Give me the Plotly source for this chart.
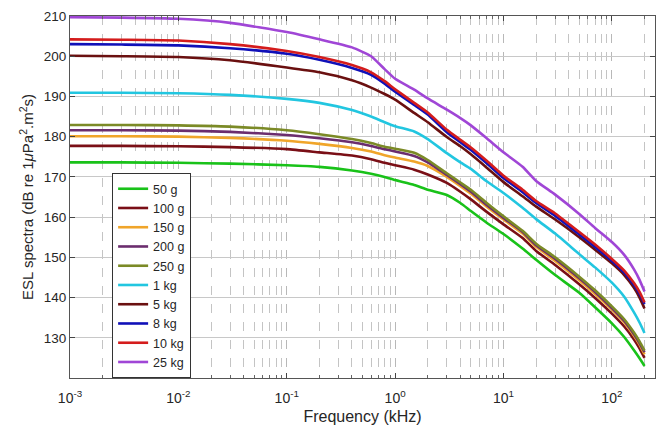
import plotly.graph_objects as go

freq_khz = [0.001, 0.003, 0.01, 0.03, 0.1, 0.2, 0.4, 0.6, 0.8, 1, 1.5, 2, 3, 4, 5, 7,
            10, 15, 20, 30, 50, 70, 100, 130, 160, 180, 200]

labels = ["50 g", "100 g", "150 g", "200 g", "250 g", "1 kg", "5 kg", "8 kg", "10 kg", "25 kg"]

esl_50g = [173.6, 173.6, 173.5, 173.3, 172.9, 172.5, 171.6, 170.8, 170.0, 169.2, 168.0, 166.8, 165.5, 163.5,
           161.5, 158.6, 155.8, 152.2, 149.4, 145.6, 141.2, 137.6, 133.6, 130.2, 126.9, 124.9, 123.0]
esl_100g = [177.7, 177.7, 177.6, 177.4, 176.9, 176.1, 175.3, 174.4, 173.5, 172.9, 171.8, 170.6, 168.5, 166.3,
            164.4, 161.3, 158.2, 154.8, 151.6, 148.1, 143.3, 139.9, 136.0, 132.8, 129.6, 127.4, 125.0]
esl_150g = [180.1, 180.1, 180.0, 179.7, 179.0, 178.2, 177.2, 176.3, 175.4, 174.8, 173.8, 172.7, 170.0, 167.7,
            165.8, 162.6, 159.4, 155.9, 152.6, 149.1, 144.3, 140.9, 137.0, 133.8, 130.5, 128.3, 125.9]
esl_200g = [181.6, 181.6, 181.5, 181.2, 180.4, 179.6, 178.6, 177.7, 176.9, 176.3, 175.2, 173.6, 170.5, 168.2,
            166.3, 163.0, 159.8, 156.3, 153.0, 149.6, 144.8, 141.4, 137.4, 134.2, 130.9, 128.7, 126.4]
esl_250g = [182.9, 182.9, 182.8, 182.5, 181.6, 180.6, 179.4, 178.4, 177.5, 177.0, 176.0, 174.2, 170.9, 168.6,
            166.8, 163.5, 160.2, 156.6, 153.4, 150.0, 145.2, 141.8, 137.8, 134.6, 131.3, 129.1, 126.8]
esl_1kg = [190.9, 190.9, 190.8, 190.4, 189.4, 188.4, 186.6, 185.0, 183.6, 182.6, 181.3, 179.4, 175.9, 173.6,
           172.0, 168.9, 166.0, 162.3, 159.5, 155.9, 150.8, 147.5, 143.7, 140.2, 136.3, 133.8, 131.2]
esl_5kg = [200.1, 200.0, 199.8, 199.0, 197.2, 196.0, 194.0, 192.2, 190.6, 189.2, 185.9, 183.6, 179.9, 177.6,
           175.6, 172.3, 168.7, 165.2, 162.6, 159.4, 155.0, 151.9, 148.5, 145.6, 142.4, 140.0, 137.3]
esl_8kg = [203.0, 202.9, 202.7, 202.0, 200.6, 199.1, 197.1, 195.4, 193.2, 191.2, 187.9, 185.5, 181.1, 178.6,
           176.7, 173.4, 169.7, 166.2, 163.5, 160.3, 155.7, 152.6, 149.1, 146.2, 143.1, 140.9, 138.4]
esl_10kg = [204.2, 204.1, 203.9, 203.0, 201.3, 199.8, 197.8, 196.0, 193.8, 191.8, 188.4, 186.0, 181.7, 179.2,
            177.3, 174.0, 170.3, 166.8, 164.0, 160.9, 156.3, 153.2, 149.6, 146.7, 143.6, 141.4, 138.8]
esl_25kg = [209.7, 209.6, 209.3, 208.3, 206.0, 204.2, 202.2, 200.0, 196.8, 194.4, 191.7, 189.5, 186.7, 184.6,
            182.8, 179.6, 176.1, 172.5, 169.0, 165.6, 160.8, 157.3, 153.8, 150.6, 147.0, 144.4, 141.5]

series = [esl_50g, esl_100g, esl_150g, esl_200g, esl_250g, esl_1kg, esl_5kg, esl_8kg, esl_10kg, esl_25kg]
colors = ["#19c219", "#7a0f16", "#f0a52a", "#6b2d6e", "#7b8a26", "#22c6e0", "#6a1010", "#1010b8", "#d41c1c", "#a046d6"]

x_tickvals = [1e-3, 1e-2, 1e-1, 1e0, 1e1, 1e2]
x_ticktext = ["10<sup>-3</sup>", "10<sup>-2</sup>", "10<sup>-1</sup>", "10<sup>0</sup>", "10<sup>1</sup>", "10<sup>2</sup>"]
x_minor_vals = [m * d for d in [1e-3, 1e-2, 1e-1, 1e0, 1e1, 1e2] for m in range(2, 10) if m * d <= 250]
y_tickvals = [130, 140, 150, 160, 170, 180, 190, 200, 210]

fig = go.Figure()
for name, vals, col in zip(labels, series, colors):
    fig.add_trace(go.Scatter(x=freq_khz, y=vals, name=name, mode="lines",
                             line=dict(color=col, width=2.6, shape="spline", smoothing=0.5)))

font_family = "Liberation Sans, Arial, sans-serif"
fig.update_layout(
    width=662, height=425,
    margin=dict(l=70, r=7, t=16, b=47),
    paper_bgcolor="white", plot_bgcolor="white",
    font=dict(family=font_family, size=13, color="#262626"),
    showlegend=True,
    legend=dict(x=0.072, y=0.566, xanchor="left", yanchor="top",
                bgcolor="white", bordercolor="#333333", borderwidth=1,
                font=dict(size=12.5, color="#262626"), tracegroupgap=0,
                itemwidth=30),
)
fig.update_xaxes(
    type="log", range=[-3, 2.398], automargin=False,
    tickmode="array", tickvals=x_tickvals, ticktext=x_ticktext,
    ticks="inside", ticklen=5, tickcolor="#444", mirror="ticks",
    showline=True, linecolor="#555", linewidth=1,
    showgrid=True, gridcolor="#b8b8b8", griddash="dash", gridwidth=1,
    minor=dict(tickmode="array", tickvals=x_minor_vals, ticks="inside", ticklen=3,
               tickcolor="#666", showgrid=True, gridcolor="#c4c4c4", griddash="dash"),
    title=dict(text="Frequency (kHz)", font=dict(size=16), standoff=14),
    ticklabelstandoff=7,
    zeroline=False,
    tickfont=dict(size=14),
)
fig.update_yaxes(
    range=[120, 210], tickvals=y_tickvals, automargin=False,
    ticks="inside", ticklen=5, tickcolor="#444", mirror="ticks",
    showline=True, linecolor="#555", linewidth=1,
    showgrid=True, gridcolor="#c8c8c8", gridwidth=1,
    title=dict(text="ESL spectra (dB re 1<i>μ</i>Pa<sup>2</sup>.m<sup>2</sup>s)", font=dict(size=15), standoff=6),
    zeroline=False,
    tickfont=dict(size=13.5),
)

fig.write_html("out.html")
